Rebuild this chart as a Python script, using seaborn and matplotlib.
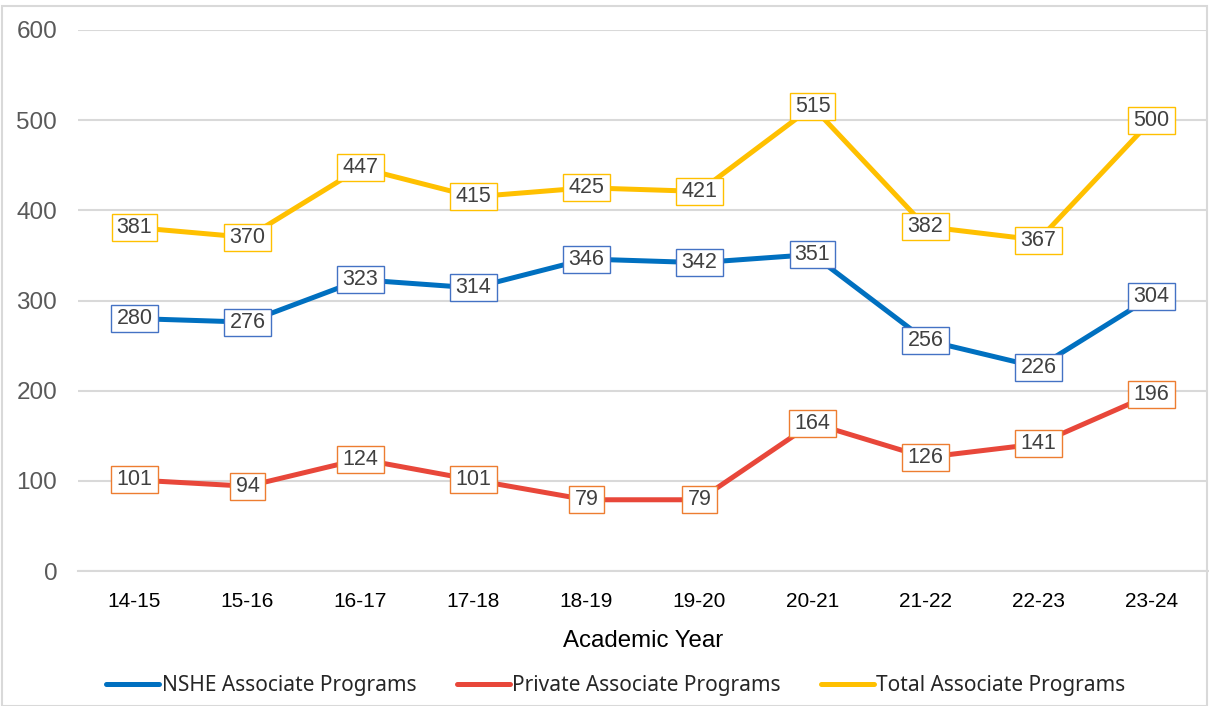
import matplotlib
matplotlib.use("Agg")
import matplotlib.pyplot as plt
import seaborn as sns
import pandas as pd
from matplotlib.patches import Rectangle
from matplotlib.lines import Line2D
from matplotlib.path import Path

years = ["14-15", "15-16", "16-17", "17-18", "18-19", "19-20", "20-21", "21-22", "22-23", "23-24"]
nshe = [280, 276, 323, 314, 346, 342, 351, 256, 226, 304]
private = [101, 94, 124, 101, 79, 79, 164, 126, 141, 196]
total = [381, 370, 447, 415, 425, 421, 515, 382, 367, 500]

series_names = ["NSHE Associate Programs", "Private Associate Programs", "Total Associate Programs"]
series_vals = [nshe, private, total]
line_colors = ["#0070C0", "#E8473A", "#FFC000"]
box_colors = ["#4472C4", "#ED7D31", "#FFC000"]

rows = []
for name, vals in zip(series_names, series_vals):
    for i, (y, v) in enumerate(zip(years, vals)):
        rows.append({"Year": y, "idx": i, "Value": v, "Series": name})
df = pd.DataFrame(rows)


def label_box(x0, y0, width, height, mutation_scale):
    px = 0.24 * mutation_scale
    py = 0.14 * mutation_scale
    x0, y0 = x0 - px, y0 - py
    x1, y1 = x0 + width + 2 * px, y0 + height + 2 * py
    return Path([(x0, y0), (x1, y0), (x1, y1), (x0, y1), (x0, y0)],
                [Path.MOVETO, Path.LINETO, Path.LINETO, Path.LINETO, Path.CLOSEPOLY])


sns.set_theme(style="white")
plt.rcParams['font.family'] = ['Liberation Sans', 'DejaVu Sans']

fig = plt.figure(figsize=(12.09, 7.06), dpi=100)
ax = fig.add_axes([78/1209, 1 - 571/706, (1208 - 78)/1209, (571 - 30)/706])

sns.lineplot(data=df, x="idx", y="Value", hue="Series", hue_order=series_names,
             palette=dict(zip(series_names, line_colors)), linewidth=3.6,
             ax=ax, legend=False, sort=False, solid_capstyle="butt")

for name, vals, bc in zip(series_names, series_vals, box_colors):
    for i, v in enumerate(vals):
        ax.text(i, v, str(v), ha="center", va="center", fontsize=15.5, color="#404040",
                bbox=dict(boxstyle=label_box, fc="white", ec=bc, lw=1.0), zorder=5)

ax.set_xlim(-0.5, len(years) - 0.5)
ax.set_ylim(0, 600)
ax.set_yticks([0, 100, 200, 300, 400, 500, 600])
ax.set_xticks(range(len(years)))
ax.set_xticklabels(years)
ax.tick_params(axis="y", labelsize=17.5, labelcolor="#595959", length=0, pad=15)
ax.tick_params(axis="x", labelsize=15, labelcolor="#000000", length=0, pad=15)
ax.set_xticks([i - 0.5 for i in range(len(years) + 1)], minor=True)
ax.tick_params(axis="x", which="minor", length=10, color="#D9D9D9", width=1.5, direction="inout")
ax.grid(axis="y", color="#D9D9D9", linewidth=1.5)
ax.set_axisbelow(True)
for s in ["top", "right", "left"]:
    ax.spines[s].set_visible(False)
ax.spines["bottom"].set_color("#D9D9D9")
ax.spines["bottom"].set_linewidth(1.5)
ax.set_xlabel("Academic Year", fontsize=17.3, color="#000000", labelpad=14)
ax.set_ylabel("")

handles = [Line2D([0], [0], color=c, lw=3.6, solid_capstyle="round") for c in line_colors]
fig.legend(handles, series_names, loc="center", bbox_to_anchor=(616/1209, 1 - 686/706), ncol=3,
           frameon=False, handlelength=2.55, handletextpad=0.1, columnspacing=1.95,
           prop={"family": ["Noto Sans", "DejaVu Sans"], "size": 15})

fig.patches.append(Rectangle((2/1209, 0), 1 - 4/1209, 1 - 6/706, transform=fig.transFigure,
                             fill=False, ec="#D9D9D9", lw=1.5))

fig.savefig("out.png", dpi=100)
